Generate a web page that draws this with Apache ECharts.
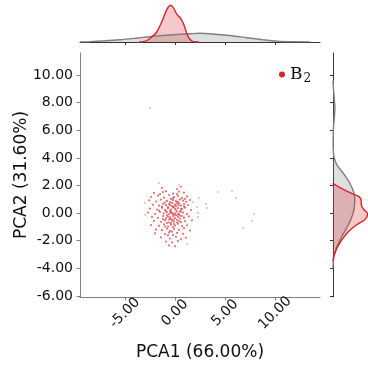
<!DOCTYPE html>
<html>
<head>
<meta charset="utf-8">
<script src="https://cdn.jsdelivr.net/npm/echarts@6/dist/echarts.min.js"></script>
<style>
  html, body { margin: 0; padding: 0; background: #fff; }
  #chart { width: 368px; height: 370px; }
</style>
</head>
<body>
<div id="chart"></div>
<script>
// Tick positions for the shared PCA axes
const xTicks = [-5, 0, 5, 10];
const yTicks = [-6, -4, -2, 0, 2, 4, 6, 8, 10];

// PCA scores of the B2 samples: [PCA1, PCA2]
const b2Points = [
  [-1.3,1.83],[0.2,1.74],[0.6,1.91],
  [-2.1,1.46],[-0.9,1.58],[-0.2,1.41],[0.4,1.55],[0.9,1.49],[-1.5,1.37],
  [-2.4,1.18],[-1.7,1.27],[-1.1,1.12],[-0.6,1.31],[-0.1,1.16],[0.3,1.24],[0.7,1.09],[1.2,1.21],[-0.4,1.03],
  [-2.6,0.93],[-1.9,0.84],[-1.4,0.97],[-0.8,0.88],[-0.5,0.79],[-0.2,0.95],[0.1,0.86],[0.5,0.99],[0.8,0.91],[1.1,0.82],[1.5,0.94],[-1.0,0.76],[0.3,0.81],
  [-2.2,0.61],[-1.6,0.54],[-1.2,0.68],[-0.9,0.57],[-0.6,0.66],[-0.3,0.51],[0.0,0.63],[0.2,0.72],[0.6,0.55],[0.9,0.64],[1.3,0.58],[-0.1,0.47],[0.4,0.69],
  [-2.5,0.33],[-1.8,0.26],[-1.3,0.38],[-1.0,0.21],[-0.7,0.35],[-0.4,0.28],[-0.2,0.41],[0.1,0.24],[0.3,0.36],[0.7,0.29],[1.0,0.39],[1.6,0.22],[-0.5,0.17],[0.5,0.13],
  [-2.7,0.04],[-2.0,-0.06],[-1.5,0.08],[-1.1,-0.03],[-0.8,0.06],[-0.6,-0.09],[-0.3,0.02],[-0.1,-0.12],[0.2,0.09],[0.4,-0.05],[0.8,0.03],[1.2,-0.08],[-0.4,0.11],[0.0,-0.01],[0.6,0.12],
  [-2.3,-0.27],[-1.7,-0.34],[-1.2,-0.21],[-0.9,-0.38],[-0.7,-0.25],[-0.5,-0.31],[-0.2,-0.22],[0.0,-0.36],[0.3,-0.28],[0.5,-0.19],[0.9,-0.33],[1.4,-0.24],[-0.4,-0.42],[0.1,-0.15],
  [-2.1,-0.56],[-1.4,-0.63],[-1.0,-0.51],[-0.6,-0.68],[-0.3,-0.55],[-0.1,-0.61],[0.2,-0.49],[0.6,-0.66],[1.0,-0.58],[1.7,-0.52],[-0.8,-0.71],[0.4,-0.59],
  [-2.4,-0.87],[-1.6,-0.93],[-1.1,-0.82],[-0.7,-0.98],[-0.4,-0.85],[0.0,-0.91],[0.3,-0.78],[0.7,-0.95],[1.2,-0.88],[-0.2,-1.02],
  [-1.9,-1.18],[-1.3,-1.24],[-0.8,-1.12],[-0.5,-1.29],[-0.1,-1.16],[0.4,-1.21],[0.9,-1.09],[1.5,-1.26],
  [-2.0,-1.47],[-1.0,-1.53],[-0.6,-1.41],[-0.2,-1.58],[0.2,-1.44],[0.8,-1.51],
  [-1.4,-1.76],[-0.5,-1.84],[0.1,-1.72],[0.6,-1.88],[1.1,-1.79],
  [-0.9,-2.06],[-0.3,-2.13],[0.3,-2.02],
  [-0.6,-2.34],[0.0,-2.41],
  [-0.7,0.43],[-0.3,0.74],[0.1,0.52],[-0.9,0.14],[-0.2,-0.05],[0.3,-0.11],[-0.6,-0.46],[-0.1,-0.79],
  [0.2,-0.68],[-0.5,0.58],[-1.2,-0.44],[0.6,0.31],[-0.8,-0.17],[0.0,0.33],[-0.4,-0.73],[0.5,-0.41],
  [-1.3,0.47],[-0.2,1.07],[0.7,-0.21],[-1.0,-0.97],[0.9,0.47],[-0.3,-1.35],[-1.6,0.18],[0.2,1.37],
  [-0.7,-1.62],[1.0,1.03],[-1.2,1.52],[-0.45,0.02],[0.35,0.57],[-0.15,-0.47]
];

// PCA scores of the remaining samples
const otherPoints = [
  [-3.0,0.73],[-1.6,2.18],[0.4,2.04],[-3.0,-0.14],[2.4,1.09],[1.8,0.80],[2.2,0.44],
  [3.1,0.66],[3.2,0.37],[2.3,0.01],[2.3,-0.28],[4.3,1.53],[5.7,1.60],[6.1,1.09],
  [7.9,-0.07],[7.7,-0.57],[6.8,-1.08],[1.2,-2.24],[-2.5,7.62]
];

// Kernel density along PCA1: [PCA1, density]
const b2DensityX = [
  [-3.6,0],[-3.2,0.003],[-2.8,0.015],[-2.33,0.05],[-1.83,0.10],[-1.33,0.20],[-1.0,0.284],
  [-0.67,0.35],[-0.43,0.367],[-0.17,0.344],[0.17,0.28],[0.33,0.26],[0.5,0.245],[0.77,0.20],
  [1.0,0.14],[1.2,0.08],[1.43,0.035],[1.7,0.01],[2.0,0.002],[2.4,0]
];
const otherDensityX = [
  [-9.5,0.001],[-8.5,0.004],[-7,0.012],[-5.5,0.023],[-3.8,0.04],[-2.2,0.057],[-0.2,0.073],
  [1.5,0.083],[2.5,0.087],[3.5,0.083],[5.2,0.067],[7.2,0.043],[8.8,0.023],[10.2,0.008],
  [11.8,0.002],[13.5,0.001]
];

// Kernel density along PCA2: [density, PCA2]
const b2DensityY = [
  [0,2.2],[0.003,2.16],[0.023,2.04],[0.107,1.72],[0.207,1.38],[0.267,1.19],[0.29,0.95],
  [0.29,0.7],[0.297,0.46],[0.323,0.22],[0.357,-0.07],[0.323,-0.5],[0.24,-0.86],[0.157,-1.35],
  [0.09,-1.96],[0.04,-2.55],[0.007,-3.16],[0,-3.5]
];
const otherDensityY = [
  [0,9.6],[0.005,9],[0.013,8.3],[0.02,7.6],[0.013,6.9],[0.005,6.2],[0.002,5.3],[0.003,4.6],
  [0.01,4.09],[0.04,3.49],[0.107,2.88],[0.173,2.16],[0.217,1.43],[0.223,0.71],[0.207,-0.01],
  [0.157,-0.86],[0.09,-1.71],[0.04,-2.43],[0.013,-3.04],[0.002,-3.6],[0,-4.0]
];

const RED = '#d62728';
const GREY = '#808080';
const FONT = 'DejaVu Sans';

function sideDensity(points, color, z) {
  return {
    type: 'custom',
    coordinateSystem: 'cartesian2d',
    xAxisIndex: 2,
    yAxisIndex: 2,
    silent: true,
    z: z,
    data: points,
    renderItem(params, api) {
      if (params.dataIndex !== 0) return;
      const pts = points.map(p => api.coord(p));
      return {
        type: 'group',
        children: [
          { type: 'polygon', shape: { points: pts, smooth: 0.3 },
            style: { fill: color, opacity: 0.25 } },
          { type: 'polyline', shape: { points: pts, smooth: 0.3 },
            style: { stroke: color, lineWidth: 1.4, fill: null } }
        ]
      };
    }
  };
}

const chart = echarts.init(document.getElementById('chart'), null, { renderer: 'canvas' });

chart.setOption({
  animation: false,
  backgroundColor: '#fff',
  grid: [
    { left: 80, top: 53, width: 240, height: 244 },
    { left: 80, top: 0, width: 240, height: 42 },
    { left: 333, top: 53, width: 35, height: 244 }
  ],
  xAxis: [
    {
      gridIndex: 0, type: 'value', min: -9.5, max: 14.5,
      name: 'PCA1 (66.00%)', nameLocation: 'middle', nameGap: 47, nameMoveOverlap: false,
      nameTextStyle: { fontFamily: FONT, fontSize: 17, color: '#111' },
      axisLine: { onZero: false, lineStyle: { color: GREY, width: 1 } },
      axisTick: { length: 3.5, customValues: xTicks, lineStyle: { color: GREY } },
      axisLabel: {
        customValues: xTicks, rotate: 45, align: 'center', verticalAlign: 'middle', margin: 16,
        fontFamily: FONT, fontSize: 14, color: '#111',
        formatter: v => v.toFixed(2)
      },
      splitLine: { show: false }
    },
    {
      gridIndex: 1, type: 'value', min: -9.5, max: 14.5,
      axisLine: { onZero: false, lineStyle: { color: '#333', width: 1 } },
      axisTick: { length: 3, customValues: xTicks, lineStyle: { color: '#333' } },
      axisLabel: { show: false },
      splitLine: { show: false }
    },
    {
      gridIndex: 2, type: 'value', min: 0, max: 0.36, show: false,
      axisLine: { onZero: false }
    }
  ],
  yAxis: [
    {
      gridIndex: 0, type: 'value', min: -6.08, max: 11.6,
      name: 'PCA2 (31.60%)', nameLocation: 'middle', nameGap: 50, nameMoveOverlap: false,
      nameTextStyle: { fontFamily: FONT, fontSize: 17, color: '#111' },
      axisLine: { show: true, onZero: false, lineStyle: { color: GREY, width: 1 } },
      axisTick: { show: true, length: 3.5, customValues: yTicks, lineStyle: { color: GREY } },
      axisLabel: {
        customValues: yTicks, margin: 7,
        fontFamily: FONT, fontSize: 14, color: '#111',
        formatter: v => v.toFixed(2)
      },
      splitLine: { show: false }
    },
    {
      gridIndex: 1, type: 'value', min: 0, max: 0.42, show: false,
      axisLine: { onZero: false }
    },
    {
      gridIndex: 2, type: 'value', min: -6.08, max: 11.6,
      axisLine: { show: true, onZero: false, lineStyle: { color: '#333', width: 1 } },
      axisTick: { show: true, length: 3, customValues: yTicks, lineStyle: { color: '#333' } },
      axisLabel: { show: false },
      splitLine: { show: false }
    }
  ],
  legend: {
    data: [{ name: 'B2', icon: 'circle', itemStyle: { color: RED, opacity: 1 } }],
    left: 274, top: 61,
    itemWidth: 6, itemHeight: 6,
    formatter: () => '{b|B}{s|2}',
    textStyle: {
      rich: {
        b: { fontFamily: 'DejaVu Serif', fontSize: 17, color: '#111' },
        s: { fontFamily: 'DejaVu Serif', fontSize: 12, color: '#111', padding: [8, 0, 0, 1] }
      }
    }
  },
  series: [
    {
      name: 'other', type: 'scatter', xAxisIndex: 0, yAxisIndex: 0,
      data: otherPoints, symbol: 'circle', symbolSize: 2.2,
      itemStyle: { color: '#a0a0a0', opacity: 0.55 }, silent: true
    },
    {
      name: 'B2', type: 'scatter', xAxisIndex: 0, yAxisIndex: 0,
      data: b2Points, symbol: 'circle', symbolSize: 2.2,
      itemStyle: { color: RED, opacity: 0.65 }, silent: true
    },
    {
      name: 'other-x', type: 'line', xAxisIndex: 1, yAxisIndex: 1,
      data: otherDensityX, smooth: 0.3, symbol: 'none', silent: true,
      lineStyle: { color: GREY, width: 1.4 },
      areaStyle: { color: GREY, opacity: 0.25 }
    },
    {
      name: 'B2-x', type: 'line', xAxisIndex: 1, yAxisIndex: 1,
      data: b2DensityX, smooth: 0.3, symbol: 'none', silent: true,
      lineStyle: { color: RED, width: 1.4 },
      areaStyle: { color: RED, opacity: 0.25 }
    },
    sideDensity(otherDensityY, GREY, 2),
    sideDensity(b2DensityY, RED, 3)
  ]
});
</script>
</body>
</html>
